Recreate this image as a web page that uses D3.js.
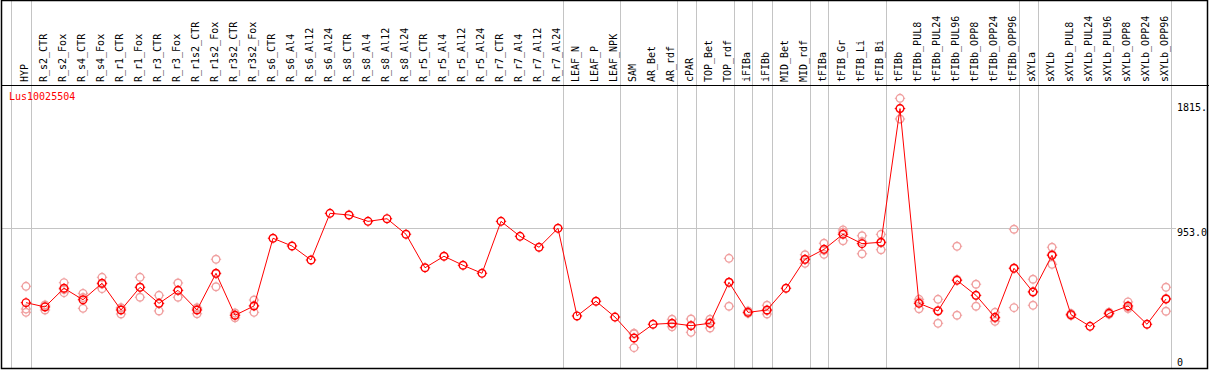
<!DOCTYPE html>
<html>
<head>
<meta charset="utf-8">
<script src="https://cdnjs.cloudflare.com/ajax/libs/d3/7.8.5/d3.min.js"></script>
<style>
  body { margin: 0; background: #fff; }
  text { font-family: "DejaVu Sans Mono", monospace; font-size: 10px; }
</style>
</head>
<body>
<script>
// Sample names, left to right
var samples = ["HYP", "R_s2_CTR", "R_s2_Fox", "R_s4_CTR", "R_s4_Fox", "R_r1_CTR", "R_r1_Fox",
    "R_r3_CTR", "R_r3_Fox", "R_r1s2_CTR", "R_r1s2_Fox", "R_r3s2_CTR", "R_r3s2_Fox",
    "R_s6_CTR", "R_s6_Al4", "R_s6_Al12", "R_s6_Al24", "R_s8_CTR", "R_s8_Al4", "R_s8_Al12", "R_s8_Al24",
    "R_r5_CTR", "R_r5_Al4", "R_r5_Al12", "R_r5_Al24", "R_r7_CTR", "R_r7_Al4", "R_r7_Al12", "R_r7_Al24",
    "LEAF_N", "LEAF_P", "LEAF_NPK", "SAM", "AR_Bet", "AR_rdf", "cPAR", "TOP_Bet", "TOP_rdf",
    "iFIBa", "iFIBb", "MID_Bet", "MID_rdf", "tFIBa", "tFIB_Gr", "tFIB_Li", "tFIB_Bi",
    "tFIBb", "tFIBb_PUL8", "tFIBb_PUL24", "tFIBb_PUL96", "tFIBb_OPP8", "tFIBb_OPP24", "tFIBb_OPP96",
    "sXYLa", "sXYLb", "sXYLb_PUL8", "sXYLb_PUL24", "sXYLb_PUL96", "sXYLb_OPP8", "sXYLb_OPP24", "sXYLb_OPP96"];

// Mean expression per sample
var means = [414, 383, 518, 435, 554, 361, 525, 409, 503, 361, 626, 323, 390,
    879, 823, 722, 1059, 1047, 1001, 1020, 908,
    666, 749, 684, 626, 1001, 893, 814, 951,
    318, 424, 310, 159, 258, 265, 248, 265, 561,
    344, 361, 518, 727, 799, 908, 840, 850,
    1815, 409, 354, 575, 467, 308, 662,
    491, 756, 327, 243, 337, 390, 258, 440];

// Replicate values per sample (empty = single sample)
var replicates = [[532, 368, 344], [397, 361, 391], [558, 486, 509], [481, 373, 451], [597, 515, 549],
    [378, 332, 373], [597, 453, 525], [467, 354, 407], [556, 453, 501], [378, 334, 371],
    [727, 529, 622], [339, 305, 324], [433, 344, 393],
    [], [], [], [], [], [], [], [], [], [], [], [], [], [], [], [],
    [], [], [], [193, 89, 188], [], [294, 240, 261], [296, 200, 247], [294, 231, 270], [734, 388, 561],
    [354, 337, 342], [395, 332, 356], [], [760, 698, 723], [843, 763, 792], [939, 861, 922],
    [897, 767, 855], [907, 796, 846],
    [1889, 1740, 1816], [438, 370, 420], [438, 265, 358], [821, 323, 582], [547, 388, 466],
    [344, 279, 302], [944, 378, 664],
    [583, 395, 495], [814, 691, 763], [335, 320, 326], [], [345, 330, 336], [419, 380, 371],
    [], [525, 352, 444]];

// Index of the first sample in each group
var groupStarts = [0, 1, 29, 32, 35, 36, 38, 39, 40, 42, 43, 46, 53, 54, 61];

var gene = "Lus10025504";
var yTicks = [0, 953, 1815];
var yTickLabels = ["0", "953.0", "1815."];

var width = 1209, height = 370;

var svg = d3.select("body").append("svg")
    .attr("width", width)
    .attr("height", height);

var xScale = d3.scaleLinear().domain([0, samples.length - 1]).range([26, 1166]);
var yScale = d3.scaleLinear().domain([0, 953]).range([360, 228]);

// group separators
svg.selectAll(".sep")
    .data(groupStarts)
    .enter().append("line")
    .attr("x1", function (d) { return Math.round(xScale(d - 1) + 4.5) + 0.5; })
    .attr("x2", function (d) { return Math.round(xScale(d - 1) + 4.5) + 0.5; })
    .attr("y1", 0)
    .attr("y2", height - 2)
    .attr("stroke", "#c4c4c4")
    .attr("stroke-width", 1);

// grid line at the middle tick
svg.append("line")
    .attr("x1", 1).attr("x2", 1176)
    .attr("y1", Math.round(yScale(yTicks[1])) + 0.5)
    .attr("y2", Math.round(yScale(yTicks[1])) + 0.5)
    .attr("stroke", "#c4c4c4");

// header separator and frame
svg.append("line")
    .attr("x1", 1).attr("x2", width)
    .attr("y1", 85.5).attr("y2", 85.5)
    .attr("stroke", "#000");
svg.append("rect")
    .attr("x", 1.5).attr("y", 0.5)
    .attr("width", 1206).attr("height", 368)
    .attr("fill", "none")
    .attr("stroke", "#000")
    .attr("stroke-width", 1.5);

// sample labels
svg.selectAll(".lab")
    .data(samples)
    .enter().append("text")
    .attr("transform", function (d, i) {
        return "translate(" + (xScale(i) + 1.5) + ",82) rotate(-90)";
    })
    .attr("fill", "#000")
    .text(function (d) { return d; });

// y labels
var tickDy = [6, 8, 2.5];
svg.selectAll(".ylab")
    .data(yTicks)
    .enter().append("text")
    .attr("x", 1177)
    .attr("y", function (d, i) { return yScale(d) + tickDy[i]; })
    .attr("fill", "#000")
    .text(function (d, i) { return yTickLabels[i]; });

svg.append("text")
    .attr("x", 9).attr("y", 100)
    .attr("fill", "#ff0000")
    .text(gene);

function marker(g, x, y, color) {
    g.append("circle")
        .attr("cx", x).attr("cy", y).attr("r", 3.8)
        .attr("fill", "none")
        .attr("stroke", color)
        .attr("stroke-width", 1.4);
    [[0, -1], [0, 1], [-1, 0], [1, 0]].forEach(function (o) {
        g.append("line")
            .attr("x1", x + o[0] * 3.8).attr("y1", y + o[1] * 3.8)
            .attr("x2", x + o[0] * 5.2).attr("y2", y + o[1] * 5.2)
            .attr("stroke", color)
            .attr("stroke-width", 1);
    });
}

// replicate points
var repG = svg.append("g");
replicates.forEach(function (reps, i) {
    reps.forEach(function (v) {
        marker(repG, xScale(i), yScale(v), "#f0a0a0");
    });
});

// mean line
var line = d3.line()
    .x(function (d, i) { return xScale(i); })
    .y(function (d) { return yScale(d); });

svg.append("path")
    .datum(means)
    .attr("d", line)
    .attr("fill", "none")
    .attr("stroke", "#ff0000")
    .attr("stroke-width", 1);

var meanG = svg.append("g");
means.forEach(function (v, i) {
    marker(meanG, xScale(i), yScale(v), "#ff0000");
});
</script>
</body>
</html>
